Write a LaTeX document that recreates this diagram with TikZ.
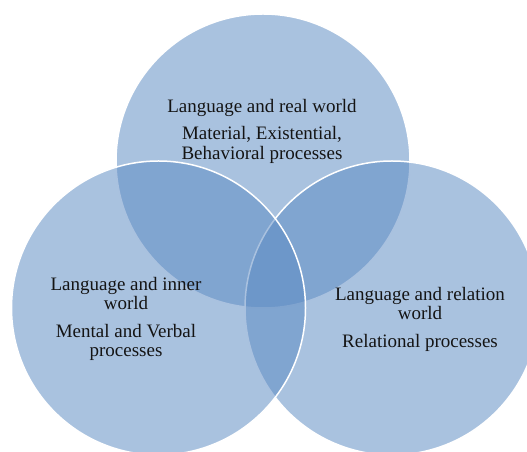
\documentclass[tikz,border=0pt]{standalone}
\usepackage{fontspec}
\setmainfont{Liberation Serif}
\usepackage{tikz}
\usetikzlibrary{positioning}
\definecolor{setblue}{RGB}{91,138,194}
\definecolor{inkgray}{RGB}{20,20,20}
\tikzset{
    set/.style = {circle, draw=white, line width=1.5pt, fill=setblue,
                  fill opacity=0.52, minimum size=294pt, inner sep=0pt},
    txt/.style = {align=center, text=inkgray, inner sep=0pt,
                  font=\fontsize{19}{19.5}\selectfont}
    }

\begin{document}
\begin{tikzpicture}[
      x = 1pt, y = 1pt % one unit per pixel of the reference
    ]
    \useasboundingbox (0, 0) rectangle (527, 452);

    % the three sets, top one first
    \node[set] (real) at (263, 291) {};
    \node[set] (relation) at (392, 144) {};
    \node[set] (inner) at (158.5, 144) {};

    \node[txt] (realtxt) at (262, 321)
        {Language and real world\\[8pt] Material, Existential,\\ Behavioral processes};
    \node[txt] (innertxt) at (126, 133)
        {Language and inner\\ world\\[8pt] Mental and Verbal\\ processes};
    \node[txt] (relationtxt) at (420, 133)
        {Language and relation\\ world\\[8pt] Relational processes};
\end{tikzpicture}
\end{document}
